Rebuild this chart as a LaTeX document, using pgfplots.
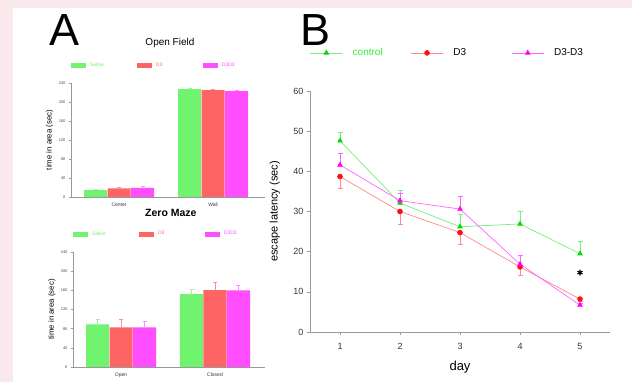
\documentclass[border=0pt]{standalone}
\usepackage{pgfplots}
\pgfplotsset{compat=1.18}
\usepackage{fontspec}
\setmainfont{Liberation Sans}
\definecolor{bgpink}{HTML}{FAE8EC}
\definecolor{sgreen}{HTML}{70F470}
\definecolor{sred}{HTML}{FF6464}
\definecolor{smag}{HTML}{FF4DFF}
\definecolor{sgreenerr}{HTML}{9CF59C}
\definecolor{srederr}{HTML}{FF9090}
\definecolor{smagerr}{HTML}{FF90FF}
\definecolor{axgray}{HTML}{999999}
\definecolor{cline}{HTML}{7AEE7A}
\definecolor{cmark}{HTML}{00DD00}
\definecolor{dline}{HTML}{FF8A8A}
\definecolor{dmark}{HTML}{FF1010}
\definecolor{mline}{HTML}{FF66FF}
\definecolor{mmark}{HTML}{FF00FF}
\definecolor{ctext}{HTML}{33EE33}
\pgfplotsset{
  panelA/.style={
    scale only axis, width=194pt, height=114pt,
    xmin=-0.511, xmax=1.553, ymin=0, ymax=240,
    ytick={0,40,...,240}, xtick={0,1},
    axis lines*=left, axis line style={-, axgray, line width=0.5pt},
    tick align=outside, major tick length=2pt,
    ytick style={axgray, line width=0.4pt},
    xtick style={draw=none},
    /pgf/number format/assume math mode=true,
    yticklabel style={font=\fontsize{4}{4}\selectfont, text=black!70},
    xticklabel style={font=\fontsize{5}{5}\selectfont, text=black!80},
    every axis y label/.style={at={(axis description cs:-0.11,0.5)}, rotate=90, anchor=center, font=\fontsize{7.8}{8}\selectfont},
    ylabel={time in area (sec)},
    legend columns=3,
    legend style={draw=none, fill=none, inner sep=0pt, outer sep=0pt, nodes={inner sep=0pt}, font=\fontsize{5}{6}\selectfont},
  },
  mybar/.style={ybar, bar width=0.245, bar shift=0pt, draw=none, fill=#1,
    legend image code/.code={\fill[#1] (0pt,-2.5pt) rectangle (15pt,2.5pt);}},
}
\begin{document}
\begin{tikzpicture}
\fill[bgpink] (0pt,0pt) rectangle (632pt,382pt);
\fill[white] (13pt,0pt) rectangle (632pt,374pt);
\useasboundingbox (0pt,0pt) rectangle (632pt,382pt);
\node[font=\fontsize{45}{45}\selectfont, anchor=base west, inner sep=0pt] at (49pt,336pt) {A};
\node[font=\fontsize{45}{45}\selectfont, anchor=base west, inner sep=0pt] at (300pt,336pt) {B};

% Open Field
\begin{axis}[panelA, at={(71pt,185pt)}, anchor=south west,
  xticklabels={Center,Wall},
  title={Open Field}, every axis title/.style={at={(axis description cs:0.51,1.351)}, anchor=center, font=\fontsize{10}{10}\selectfont},
  legend style={at={(axis description cs:0,1.155)}, anchor=west}]
\addplot[mybar=sgreen, error bars/.cd, y dir=plus, y explicit, error bar style={sgreenerr}]
  coordinates {(-0.25,14.7) +- (0,1.2) (0.75,227) +- (0,1)};
\addlegendentry{\hspace{4pt}\makebox[47pt][l]{\textcolor{sgreen}{Saline}}}
\addplot[mybar=sred, error bars/.cd, y dir=plus, y explicit, error bar style={srederr}]
  coordinates {(0,18.2) +- (0,2.5) (1,225) +- (0,1.5)};
\addlegendentry{\hspace{4pt}\makebox[47pt][l]{\textcolor{sred}{D3}}}
\addplot[mybar=smag, error bars/.cd, y dir=plus, y explicit, error bar style={smagerr}]
  coordinates {(0.25,19.4) +- (0,2.5) (1.25,223) +- (0,1.5)};
\addlegendentry{\hspace{4pt}\makebox[47pt][l]{\textcolor{smag}{D3D3}}}
\end{axis}

% Zero Maze
\begin{axis}[panelA, at={(73pt,15pt)}, anchor=south west, width=192pt, height=115pt,
  xmin=-0.511, xmax=1.532,
  xticklabels={Open,Closed},
  title={Zero Maze}, every axis title/.style={at={(axis description cs:0.51,1.339)}, anchor=center, font=\bfseries\fontsize{10.5}{10.5}\selectfont},
  legend style={at={(axis description cs:0,1.1565)}, anchor=west}]
\addplot[mybar=sgreen, error bars/.cd, y dir=plus, y explicit, error bar style={sgreenerr}]
  coordinates {(-0.25,89) +- (0,11) (0.75,152) +- (0,11)};
\addlegendentry{\hspace{4pt}\makebox[47pt][l]{\textcolor{sgreen}{Saline}}}
\addplot[mybar=sred, error bars/.cd, y dir=plus, y explicit, error bar style={srederr}]
  coordinates {(0,82.5) +- (0,18) (1,160.5) +- (0,16)};
\addlegendentry{\hspace{4pt}\makebox[47pt][l]{\textcolor{sred}{D3}}}
\addplot[mybar=smag, error bars/.cd, y dir=plus, y explicit, error bar style={smagerr}]
  coordinates {(0.25,82.5) +- (0,12.5) (1.25,160) +- (0,11)};
\addlegendentry{\hspace{4pt}\makebox[47pt][l]{\textcolor{smag}{D3D3}}}
\end{axis}

% Panel B
\begin{axis}[at={(310pt,50pt)}, anchor=south west, scale only axis, width=300pt, height=241pt,
  xmin=0.5, xmax=5.5, ymin=0, ymax=60,
  xtick={1,2,3,4,5}, ytick={0,10,...,60},
  axis lines*=left, axis line style={-, axgray, line width=0.6pt},
  tick align=outside, major tick length=3pt,
  tick style={axgray, line width=0.5pt},
  /pgf/number format/assume math mode=true,
  ticklabel style={font=\fontsize{9}{9}\selectfont, text=black!80},
  xticklabel style={yshift=-5pt},
  every axis y label/.style={at={(axis description cs:-0.117,0.5)}, rotate=90, anchor=center, font=\fontsize{11}{11}\selectfont},
  every axis x label/.style={at={(axis description cs:0.5,-0.145)}, anchor=center, font=\fontsize{13}{13}\selectfont},
  ylabel={escape latency (sec)}, xlabel={day},
  legend columns=3,
  legend style={draw=none, fill=none, inner sep=0pt, outer sep=0pt, nodes={inner sep=0pt},
    font=\fontsize{10}{10}\selectfont, at={(axis description cs:0,1.158)}, anchor=west},
  legend image code/.code={\draw[mark repeat=2,mark phase=2,#1] plot coordinates {(0pt,0pt)(16pt,0pt)(32pt,0pt)};},
  ]
\addplot[cline, line width=0.7pt, mark=triangle*, mark size=2.6pt, mark options={cmark, solid},
  error bars/.cd, y dir=plus, y explicit, error bar style={cline, line width=0.6pt}, error mark options={cline, mark size=2.5pt, rotate=90}]
  coordinates {(1,47.6) +- (0,2.1) (2,32.1) +- (0,3.1) (3,26.2) +- (0,3.2) (4,26.9) +- (0,3.1) (5,19.5) +- (0,3.2)};
\addlegendentry{\hspace{10pt}\makebox[58pt][l]{\textcolor{ctext}{control}}}
\addplot[dline, line width=0.7pt, mark=*, mark size=2.4pt, mark options={dmark, solid},
  error bars/.cd, y dir=minus, y explicit, error bar style={dline, line width=0.6pt}, error mark options={dline, mark size=2.5pt, rotate=90}]
  coordinates {(1,38.7) +- (0,3.0) (2,30.0) +- (0,3.1) (3,24.75) +- (0,2.95) (4,16.2) +- (0,2.0) (5,8.2) +- (0,0.5)};
\addlegendentry{\hspace{10pt}\makebox[58pt][l]{D3}}
\addplot[mline, line width=0.7pt, mark=triangle*, mark size=2.6pt, mark options={mmark, solid},
  error bars/.cd, y dir=plus, y explicit, error bar style={mline, line width=0.6pt}, error mark options={mline, mark size=2.5pt, rotate=90}]
  coordinates {(1,41.6) +- (0,3.0) (2,32.7) +- (0,1.9) (3,30.6) +- (0,3.1) (4,16.9) +- (0,2.1) (5,6.7) +- (0,0.5)};
\addlegendentry{\hspace{10pt}\makebox[58pt][l]{D3-D3}}
\addplot[forget plot, only marks, mark=asterisk, mark size=3pt, black, line width=1.1pt]
  coordinates {(5,14.8)};
\end{axis}
\end{tikzpicture}
\end{document}
